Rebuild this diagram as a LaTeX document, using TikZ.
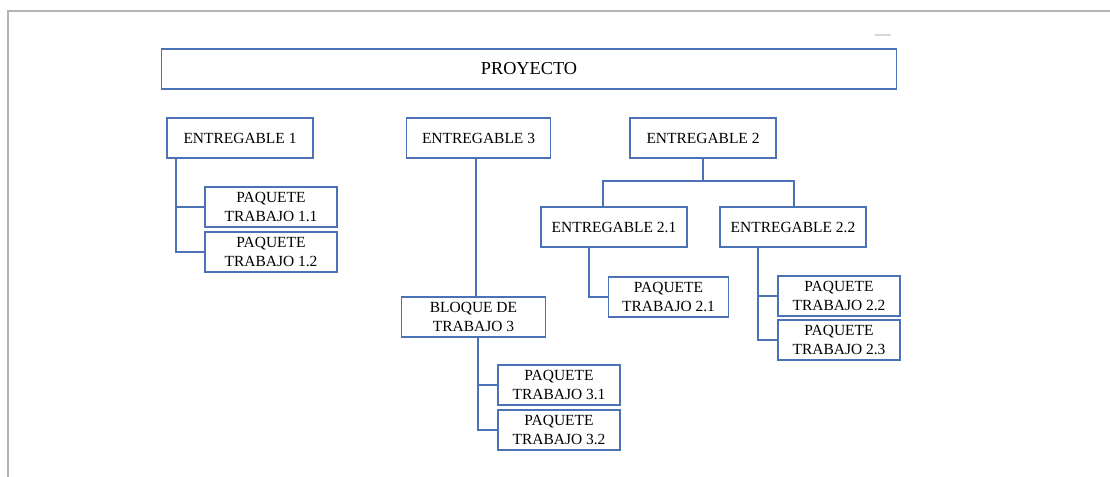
\documentclass[tikz,border=0pt]{standalone}
\usepackage{fontspec}
\setmainfont{Liberation Serif}
\usetikzlibrary{positioning}
\definecolor{boxblue}{HTML}{4A72B4}
\definecolor{framegray}{HTML}{B4B4B4}
\tikzset{
box/.style={draw=boxblue, thick, fill=white, minimum height=1cm, inner sep=1pt, align=center, font=\fontsize{11}{13.5}\selectfont}, % every box
link/.style={draw=boxblue, thick}, % the tree lines
}

\begin{document}
\begin{tikzpicture}[x=0.025cm, y=-0.025cm]
\useasboundingbox (0,0) rectangle (1110,477);
\draw[framegray, thick] (8,477) -- (8,11) -- (1110,11);
\draw[black!15, thick] (875,35) -- (891,35);

\node[box, minimum width=18.35cm, font=\fontsize{13}{15}\selectfont] (proy) at (529,69) {PROYECTO};

\node[box, minimum width=3.65cm] (e1) at (240,138) {ENTREGABLE 1};
\node[box, minimum width=3.62cm] (e3) at (478.5,138) {ENTREGABLE 3};
\node[box, minimum width=3.65cm] (e2) at (703,138) {ENTREGABLE 2};

\node[box, minimum width=3.3cm] (p11) at (271,207) {PAQUETE\\TRABAJO 1.1};
\node[box, minimum width=3.3cm] (p12) at (271,252) {PAQUETE\\TRABAJO 1.2};

\node[box, minimum width=3.62cm] (bloq) at (473.5,317) {BLOQUE DE\\TRABAJO 3};
\node[box, minimum width=3.05cm] (p31) at (559,385) {PAQUETE\\TRABAJO 3.1};
\node[box, minimum width=3.05cm] (p32) at (559,430) {PAQUETE\\TRABAJO 3.2};

\node[box, minimum width=3.65cm] (e21) at (614,227) {ENTREGABLE 2.1};
\node[box, minimum width=3.65cm] (e22) at (793,227) {ENTREGABLE 2.2};
\node[box, minimum width=3.02cm] (p21) at (668.5,297) {PAQUETE\\TRABAJO 2.1};
\node[box, minimum width=3.05cm] (p22) at (839,296) {PAQUETE\\TRABAJO 2.2};
\node[box, minimum width=3.05cm] (p23) at (839,340) {PAQUETE\\TRABAJO 2.3};

% trunks
\coordinate (t1) at (176,0);
\coordinate (t3a) at (476,0);
\coordinate (t3) at (478,0);
\coordinate (t21) at (589,0);
\coordinate (t22) at (758,0);
\coordinate (barl) at (603,181);
\coordinate (barr) at (794,181);

\draw[link] (t1 |- e1.south) |- (p12.west);
\draw[link] (p11.west) -- (p11.west -| t1);

\draw[link] (t3a |- e3.south) -- (t3a |- bloq.north);
\draw[link] (t3 |- bloq.south) |- (p32.west);
\draw[link] (p31.west) -- (p31.west -| t3);

\draw[link] (e2.south) -- (e2.south |- barl);
\draw[link] (barl |- e21.north) -- (barl) -- (barr) -- (barr |- e22.north);

\draw[link] (t21 |- e21.south) |- (p21.west);
\draw[link] (t22 |- e22.south) |- (p23.west);
\draw[link] (p22.west) -- (p22.west -| t22);
\end{tikzpicture}
\end{document}
